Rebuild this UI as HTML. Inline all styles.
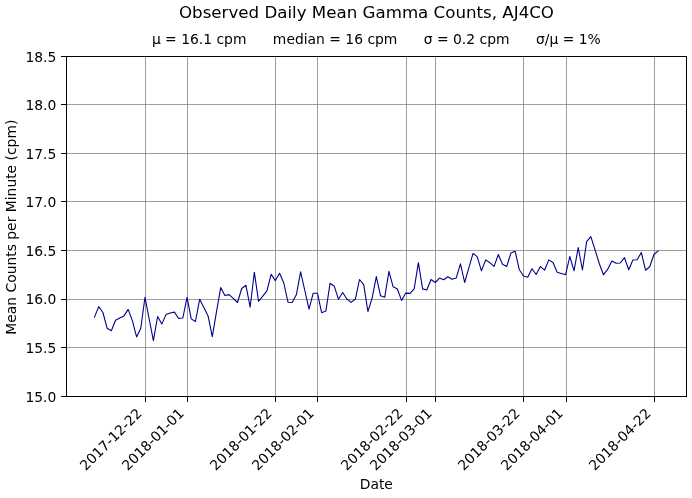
<!DOCTYPE html>
<html lang="en">
<head>
<meta charset="utf-8">
<title>Observed Daily Mean Gamma Counts, AJ4CO</title>
<style>
html,body{margin:0;padding:0;background:#fff;}
body{width:692px;height:498px;overflow:hidden;}
svg{display:block;font-family:"DejaVu Sans","Liberation Sans",sans-serif;fill:#000;}
.t10{font-size:13.89px;}
.t12{font-size:16.67px;}
</style>
</head>
<body>
<svg width="692" height="498" viewBox="0 0 692 498">
<rect x="0" y="0" width="692" height="498" fill="#ffffff"/>

<g shape-rendering="crispEdges" fill="#808080" fill-opacity="0.76">
<rect x="145" y="56" width="1" height="340"/>
<rect x="187" y="56" width="1" height="340"/>
<rect x="275" y="56" width="1" height="340"/>
<rect x="317" y="56" width="1" height="340"/>
<rect x="406" y="56" width="1" height="340"/>
<rect x="435" y="56" width="1" height="340"/>
<rect x="523" y="56" width="1" height="340"/>
<rect x="566" y="56" width="1" height="340"/>
<rect x="654" y="56" width="1" height="340"/>
<rect x="66" y="104" width="620" height="1"/>
<rect x="66" y="153" width="620" height="1"/>
<rect x="66" y="201" width="620" height="1"/>
<rect x="66" y="250" width="620" height="1"/>
<rect x="66" y="299" width="620" height="1"/>
<rect x="66" y="347" width="620" height="1"/>
</g>
<polyline fill="none" stroke="#00008b" stroke-width="1.1" stroke-linejoin="round" stroke-linecap="square" points="94.50,317.1 98.71,306.6 102.91,312.5 107.12,328.2 111.33,330.7 115.53,320.3 119.74,318.0 123.94,315.9 128.15,309.4 132.36,320.6 136.56,336.9 140.77,328.2 144.98,297.3 149.18,319.0 153.39,340.6 157.59,316.5 161.80,324.1 166.01,314.6 170.21,313.0 174.42,312.1 178.63,318.5 182.83,318.0 187.04,297.4 191.24,318.9 195.45,321.5 199.66,299.3 203.86,307.6 208.07,315.9 212.28,336.6 216.48,311.8 220.69,287.6 224.90,295.5 229.10,294.6 233.31,298.4 237.51,302.5 241.72,288.5 245.93,285.3 250.13,307.2 254.34,272.2 258.55,301.3 262.75,296.1 266.96,290.9 271.16,274.2 275.37,280.6 279.58,273.3 283.78,283.0 287.99,302.2 292.20,302.5 296.40,294.6 300.61,271.9 304.81,290.5 309.02,309.2 313.23,293.2 317.43,293.2 321.64,312.7 325.85,311.1 330.05,283.3 334.26,286.2 338.47,299.3 342.67,292.5 346.88,299.0 351.08,302.4 355.29,299.3 359.50,279.5 363.70,284.7 367.91,311.5 372.12,298.1 376.32,276.6 380.53,295.8 384.73,297.3 388.94,271.3 393.15,286.8 397.35,289.0 401.56,300.4 405.77,293.1 409.97,293.4 414.18,288.8 418.39,262.7 422.59,288.9 426.80,290.0 431.00,279.5 435.21,282.5 439.42,278.1 443.62,279.8 447.83,276.7 452.04,279.3 456.24,277.9 460.45,263.9 464.65,282.5 468.86,267.9 473.07,253.3 477.27,256.9 481.48,270.8 485.69,259.9 489.89,262.8 494.10,266.4 498.30,254.5 502.51,264.3 506.72,266.4 510.92,253.0 515.13,251.2 519.34,269.8 523.54,276.0 527.75,277.2 531.96,268.7 536.16,274.5 540.37,266.6 544.57,270.2 548.78,259.9 552.99,262.5 557.19,272.2 561.40,273.5 565.61,274.7 569.81,256.5 574.02,270.8 578.22,247.5 582.43,270.0 586.64,241.7 590.84,236.7 595.05,249.8 599.26,263.5 603.46,274.7 607.67,269.3 611.87,261.1 616.08,263.3 620.29,263.0 624.49,257.7 628.70,269.7 632.91,260.0 637.11,259.8 641.32,252.5 645.53,270.2 649.73,266.8 653.94,254.5 658.14,251.0"/>
<g shape-rendering="crispEdges" fill="#000000">
<rect x="66" y="56" width="1" height="341"/>
<rect x="686" y="56" width="1" height="341"/>
<rect x="66" y="56" width="621" height="1"/>
<rect x="66" y="396" width="621" height="1"/>
<rect x="145" y="397" width="1" height="5"/>
<rect x="187" y="397" width="1" height="5"/>
<rect x="275" y="397" width="1" height="5"/>
<rect x="317" y="397" width="1" height="5"/>
<rect x="406" y="397" width="1" height="5"/>
<rect x="435" y="397" width="1" height="5"/>
<rect x="523" y="397" width="1" height="5"/>
<rect x="566" y="397" width="1" height="5"/>
<rect x="654" y="397" width="1" height="5"/>
<rect x="61" y="56" width="5" height="1"/>
<rect x="61" y="104" width="5" height="1"/>
<rect x="61" y="153" width="5" height="1"/>
<rect x="61" y="201" width="5" height="1"/>
<rect x="61" y="250" width="5" height="1"/>
<rect x="61" y="299" width="5" height="1"/>
<rect x="61" y="347" width="5" height="1"/>
<rect x="61" y="396" width="5" height="1"/>
</g>
<g class="t10" text-anchor="end">
<text x="56.3" y="61.85">18.5</text>
<text x="56.3" y="109.85">18.0</text>
<text x="56.3" y="158.85">17.5</text>
<text x="56.3" y="206.85">17.0</text>
<text x="56.3" y="255.85">16.5</text>
<text x="56.3" y="303.85">16.0</text>
<text x="56.3" y="352.85">15.5</text>
<text x="56.3" y="401.85">15.0</text>
</g>
<g class="t10" text-anchor="end">
<text transform="translate(142.8,414.2) rotate(-45)">2017-12-22</text>
<text transform="translate(184.8,414.2) rotate(-45)">2018-01-01</text>
<text transform="translate(272.8,414.2) rotate(-45)">2018-01-22</text>
<text transform="translate(314.8,414.2) rotate(-45)">2018-02-01</text>
<text transform="translate(403.8,414.2) rotate(-45)">2018-02-22</text>
<text transform="translate(432.8,414.2) rotate(-45)">2018-03-01</text>
<text transform="translate(520.8,414.2) rotate(-45)">2018-03-22</text>
<text transform="translate(563.8,414.2) rotate(-45)">2018-04-01</text>
<text transform="translate(651.8,414.2) rotate(-45)">2018-04-22</text>
</g>
<text class="t10" text-anchor="middle" x="376.3" y="489">Date</text>
<text class="t10" text-anchor="middle" transform="translate(16.1,227.2) rotate(-90)">Mean Counts per Minute (cpm)</text>
<text class="t12" text-anchor="middle" x="366.5" y="17.5">Observed Daily Mean Gamma Counts, AJ4CO</text>
<text class="t10" text-anchor="middle" x="376.3" y="43.5" xml:space="preserve">μ = 16.1 cpm      median = 16 cpm      σ = 0.2 cpm      σ/μ = 1%</text>
</svg>
</body>
</html>
